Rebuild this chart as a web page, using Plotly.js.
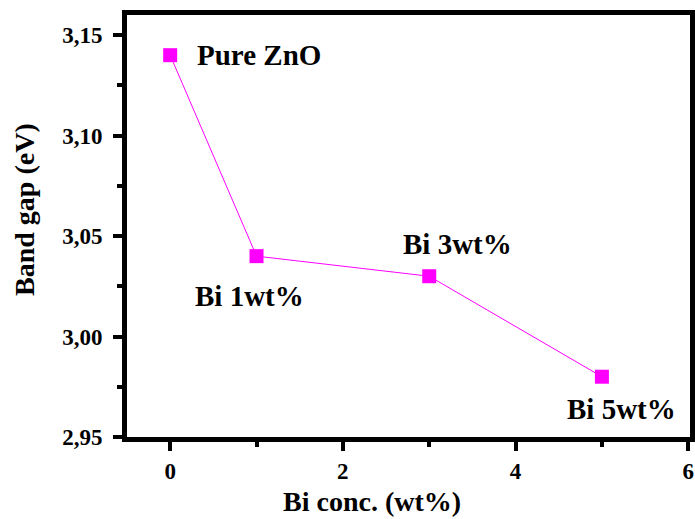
<!DOCTYPE html>
<html>
<head>
<meta charset="utf-8">
<script src="https://cdn.plot.ly/plotly-3.0.1.min.js"></script>
<style>html,body{margin:0;padding:0;background:#fff;}#chart{width:695px;height:519px;}</style>
</head>
<body>
<div id="chart"></div>
<script>
const biConc = [0, 1, 3, 5];
const bandGap = [3.14, 3.04, 3.03, 2.98];
const labels = ["Pure ZnO", "Bi 1wt%", "Bi 3wt%", "Bi 5wt%"];
const labelX = [0.29, 0.92, 3.33, 5.23];
const labelY = [3.14, 3.020, 3.046, 2.964];
const labelAnchor = ["left", "center", "center", "center"];
const xTitle = "Bi conc. (wt%)";
const yTitle = "Band gap (eV)";

const font = "Liberation Serif";

const trace = {
  x: biConc, y: bandGap, mode: "lines+markers", type: "scatter",
  line: {color: "#ff00ff", width: 1},
  marker: {symbol: "square", size: 14, color: "#ff00ff"},
  showlegend: false
};

const annotations = labels.map((t, i) => ({
  x: labelX[i], y: labelY[i], xref: "x", yref: "y", text: t,
  showarrow: false, xanchor: labelAnchor[i], yanchor: "middle",
  font: {family: font, size: 29, color: "#000", weight: "bold"}
}));
annotations.push({
  x: 0.435, y: 0, xref: "paper", yref: "paper", yshift: -64, text: xTitle,
  showarrow: false, xanchor: "center", yanchor: "middle",
  font: {family: font, size: 28, color: "#000", weight: "bold"}
});
annotations.push({
  x: 0, y: 0.538, xref: "paper", yref: "paper", xshift: -102, text: yTitle, textangle: -90,
  showarrow: false, xanchor: "center", yanchor: "middle",
  font: {family: font, size: 28, color: "#000", weight: "bold"}
});

const layout = {
  width: 695, height: 519,
  margin: {l: 127, r: 5, t: 15, b: 82},
  paper_bgcolor: "#fff", plot_bgcolor: "#fff",
  separators: ",.",
  xaxis: {
    showline: true, linecolor: "#000", linewidth: 5, mirror: true,
    ticks: "outside", tickwidth: 4, ticklen: 9, tickcolor: "#000",
    showgrid: false, zeroline: false, ticklabelstandoff: 0,
    tickfont: {family: font, size: 23, color: "#000", weight: "bold"},
    range: [-0.5, 6.02], tickvals: [0, 2, 4, 6], ticktext: ["0", "2", "4", "6"],
    minor: {ticks: "outside", ticklen: 5, tickwidth: 4, tickcolor: "#000", showgrid: false, tickvals: [1, 3, 5]}
  },
  yaxis: {
    showline: true, linecolor: "#000", linewidth: 5, mirror: true,
    ticks: "outside", tickwidth: 4, ticklen: 9, tickcolor: "#000",
    showgrid: false, zeroline: false, ticklabelstandoff: 6,
    tickfont: {family: font, size: 23, color: "#000", weight: "bold"},
    range: [2.95, 3.16], tickvals: [2.95, 3.0, 3.05, 3.1, 3.15], tickformat: ".2f",
    minor: {ticks: "outside", ticklen: 5, tickwidth: 4, tickcolor: "#000", showgrid: false, tickvals: [2.975, 3.025, 3.075, 3.125]}
  },
  annotations: annotations
};

Plotly.newPlot("chart", [trace], layout, {displayModeBar: false, staticPlot: true});
</script>
</body>
</html>
